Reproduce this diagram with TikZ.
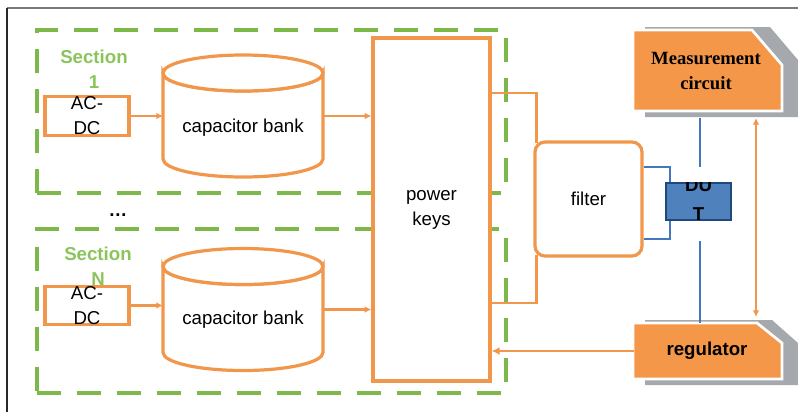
\documentclass[tikz,border=0pt]{standalone}
\usepackage{fontspec}
\setmainfont{Liberation Sans}
\newfontfamily\measfont{Liberation Serif}
\usetikzlibrary{calc,arrows.meta}

\begin{document}
\begin{tikzpicture}[x=0.75pt,y=0.75pt,yscale=-1,xscale=1,
  txt/.style={font=\fontsize{14}{18.75}\selectfont, align=center, inner sep=0pt},
  section/.style={draw={rgb, 255:red, 125; green, 184; blue, 74}, line width=2.6pt, dash pattern=on 18pt off 12pt, minimum width=351.75pt, inner sep=0pt},
  seclabel/.style={txt, font=\fontsize{14}{18.75}\selectfont\bfseries, text={rgb, 255:red, 140; green, 196; blue, 92}},
  box/.style={txt, draw={rgb, 255:red, 241; green, 151; blue, 75}, line width=2.4pt, fill=white},
  acdc/.style={box, minimum width=63pt, minimum height=28.5pt},
  bank/.style={minimum width=120pt, minimum height=91.5pt, inner sep=0pt, outer sep=0pt},
  can/.style={draw={rgb, 255:red, 241; green, 151; blue, 75}, line width=2.4pt, fill=white},
  link/.style={draw={rgb, 255:red, 241; green, 151; blue, 75}, line width=1.7pt},
  feed/.style={link, -{Latex[length=5pt,width=5pt]}},
  bl/.style={draw={rgb, 255:red, 68; green, 120; blue, 190}, line width=1.3pt},
  snip/.style={fill={rgb, 255:red, 245; green, 151; blue, 72}, draw=white, line width=2pt},
  shade/.style={fill={rgb, 255:red, 165; green, 168; blue, 172}},
  snipbox/.style={inner sep=0pt, outer sep=0pt, minimum width=110.25pt}
]
\useasboundingbox (0,0) rectangle (798,412);

%Shape: Frame
\draw [color={rgb, 255:red, 120; green, 120; blue, 120 }, line width=1.1pt] (7,8) -- (798,8) ;
\draw [color={rgb, 255:red, 40; green, 40; blue, 40 }, line width=1.1pt] (7,8) -- (7,412) ;

%Shape: Sections
\node [section, minimum height=122.25pt] (sec1) at (271.5,111.5) {};
\node [section, minimum height=123pt] (secN) at (271.5,311) {};

%Shape: Capacitor banks
\node [bank] (cap1) at (243,116) {};
\node [bank] (capN) at (243,309.5) {};
\draw [can] ($(cap1.north west)+(0,18)$) -- ($(cap1.south west)+(0,-18)$) arc [start angle=180, end angle=0, x radius=80, y radius=18] -- ($(cap1.north east)+(0,18)$) arc [start angle=0, end angle=180, x radius=80, y radius=18] -- cycle ;
\draw [can] ($(cap1.north)+(0,18)$) ellipse [x radius=80, y radius=18] ;
\draw [can] ($(capN.north west)+(0,18)$) -- ($(capN.south west)+(0,-18)$) arc [start angle=180, end angle=0, x radius=80, y radius=18] -- ($(capN.north east)+(0,18)$) arc [start angle=0, end angle=180, x radius=80, y radius=18] -- cycle ;
\draw [can] ($(capN.north)+(0,18)$) ellipse [x radius=80, y radius=18] ;
% Text Node
\node [txt] (cap1lbl) at (243,128) {capacitor bank};
% Text Node
\node [txt] (capNlbl) at (243,320) {capacitor bank};

%Shape: AC-DC
\node [acdc] (ac1) at (87,116) {AC-\\DC};
\node [acdc] (acN) at (87,305.5) {AC-\\DC};

% Text Node
\node [seclabel] (sec1lbl) at (94,69) {Section\\1};
% Text Node
\node [seclabel] (secNlbl) at (98,266) {Section\\N};
% Text Node
\node [txt, font=\fontsize{14}{16}\selectfont\bfseries] (dots) at (118,215) {\dots};

%Shape: Power keys and filter
\node [box, minimum width=87.75pt, minimum height=257.25pt] (pk) at (431.5,209.5) {power\\keys};
\node [box, rounded corners=7.5pt, minimum width=80.25pt, minimum height=85.5pt] (flt) at (588.5,199) {filter};

%Straight Lines
\draw [feed] (ac1.east) -- (cap1.west) ;
\draw [feed] (acN.east) -- (acN.east -| capN.west) ;
\draw [feed] (cap1.east) -- (cap1.east -| pk.west) ;
\draw [feed] (capN.east) -- (capN.east -| pk.west) ;
\draw [link] ($(pk.east)+(0,-116.5)$) -| ($(flt.north west)+(3,3)$) ;
\draw [link] ($(flt.south west)+(3,-3)$) |- ($(pk.east)+(0,93.5)$) ;

%Shape: Snip Same Side Corner Rectangle
\fill [shade] (645,27) -- (770,27) -- (798,60) -- (798,117) -- (645,117) -- cycle ;
\draw [snip] (633,30) -- (752,30) -- (782,65) -- (782,111) -- (633,111) -- cycle ;
%Shape: Snip Same Side Corner Rectangle
\fill [shade] (645,320) -- (772,320) -- (798,343) -- (798,385) -- (645,385) -- cycle ;
\draw [snip] (633,323) -- (757,323) -- (782,343) -- (782,379) -- (633,379) -- cycle ;
% Text Node
\node [snipbox, minimum height=60.75pt, font=\measfont\bfseries\fontsize{14}{18.75}\selectfont, align=center] (meas) at (706,70.5) {Measurement\\circuit};
% Text Node
\node [snipbox, minimum height=42pt, font=\bfseries\fontsize{14}{18.75}\selectfont] (reg) at (707,351) {regulator};

%Shape: DUT
\node [draw={rgb, 255:red, 31; green, 73; blue, 125}, line width=1.3pt, fill={rgb, 255:red, 79; green, 129; blue, 189}, minimum width=48.75pt, minimum height=27.75pt, inner sep=0pt] (dut) at (698.5,201.5) {};
\begin{scope}
\clip (dut.north west) rectangle ($(dut.south east)+(0,10)$) ;
% Text Node
\node [txt, font=\bfseries\fontsize{14}{22}\selectfont] (dutlbl) at (698.5,199.7) {DU\\T};
\end{scope}

%Straight Lines
\draw [bl] ($(flt.east)+(0,-32)$) -| ($(dut.north west)+(5,0)$) ;
\draw [bl] ($(dut.south west)+(5,0)$) |- ($(flt.east)+(0,40)$) ;
\draw [bl] ($(meas.south -| dut.north)+(1.5,7)$) -- ($(dut.north)+(1.5,-15)$) ;
\draw [bl] ($(dut.south)+(1.5,20)$) -- ($(reg.north -| dut.south)+(1.5,0)$) ;
\draw [link, line width=1.3pt, {Latex[length=5pt,width=5pt]}-{Latex[length=5pt,width=5pt]}] ($(meas.south)+(50,7)$) -- ($(reg.north)+(49,-6)$) ;
\draw [link, line width=2.2pt, -{Latex[length=6pt,width=6pt]}] (reg.west) -- (reg.west -| pk.east) ;

\end{tikzpicture}
\end{document}
